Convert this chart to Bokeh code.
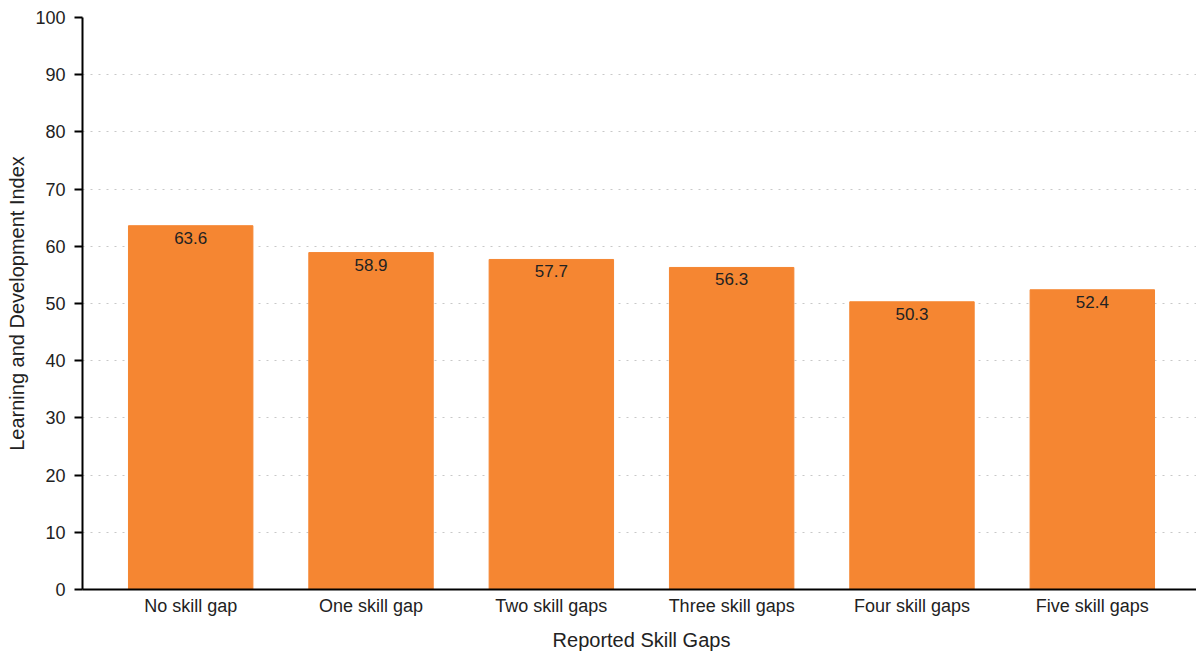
from bokeh.plotting import figure
from bokeh.models import ColumnDataSource, FactorRange, LabelSet
from bokeh.core.properties import value
from bokeh.embed import file_html
from bokeh.resources import INLINE

categories = ["No skill gap", "One skill gap", "Two skill gaps", "Three skill gaps", "Four skill gaps", "Five skill gaps"]
values = [63.6, 58.9, 57.7, 56.3, 50.3, 52.4]
labels = ["63.6", "58.9", "57.7", "56.3", "50.3", "52.4"]
y_ticks = [0, 10, 20, 30, 40, 50, 60, 70, 80, 90, 100]

FONT = "Liberation Sans"

src = ColumnDataSource(dict(cat=categories, val=values, lab=labels))

p = figure(
    x_range=FactorRange(*categories, range_padding=0.10, range_padding_units="absolute"),
    y_range=(0, 100),
    frame_width=1118, frame_height=572,
    min_border_left=82, min_border_right=0, min_border_top=17, min_border_bottom=57,
    output_backend="svg", toolbar_location=None,
)
p.outline_line_color = None
p.background_fill_color = "white"
p.border_fill_color = "white"

p.vbar(x="cat", top="val", width=0.69, source=src, fill_color="#F58632", line_color="#F58632")

p.add_layout(LabelSet(x="cat", y="val", text="lab", source=src, text_align="center",
                      text_baseline="top", y_offset=-6, text_font_size="17px",
                      text_color="#222222", text_font=value(FONT)))

p.xgrid.grid_line_color = None
p.ygrid.grid_line_color = "#c8c8c8"
p.ygrid.grid_line_dash = "2 6"
p.ygrid.grid_line_width = 1

p.yaxis.ticker = y_ticks
p.yaxis.axis_line_width = 2
p.yaxis.axis_line_color = "black"
p.yaxis.major_tick_line_width = 2
p.yaxis.major_tick_out = 8
p.yaxis.major_tick_in = 0
p.yaxis.minor_tick_line_color = None
p.yaxis.major_label_text_font_size = "18px"
p.yaxis.major_label_text_font = FONT
p.yaxis.major_label_text_color = "#222222"
p.yaxis.major_label_standoff = 9
p.yaxis.axis_label = "Learning and Development Index"
p.yaxis.axis_label_text_font_size = "20px"
p.yaxis.axis_label_text_font_style = "normal"
p.yaxis.axis_label_text_font = FONT
p.yaxis.axis_label_text_color = "#222222"
p.yaxis.axis_label_standoff = 4

p.xaxis.axis_line_width = 2
p.xaxis.axis_line_color = "black"
p.xaxis.major_tick_line_color = None
p.xaxis.minor_tick_line_color = None
p.xaxis.major_label_text_font_size = "18px"
p.xaxis.major_label_text_font = FONT
p.xaxis.major_label_text_color = "#222222"
p.xaxis.major_label_standoff = 0
p.xaxis.axis_label = "Reported Skill Gaps"
p.xaxis.axis_label_text_font_size = "20px"
p.xaxis.axis_label_text_font_style = "normal"
p.xaxis.axis_label_text_font = FONT
p.xaxis.axis_label_text_color = "#222222"
p.xaxis.axis_label_standoff = 10

open("out.html", "w").write(file_html(p, INLINE))
